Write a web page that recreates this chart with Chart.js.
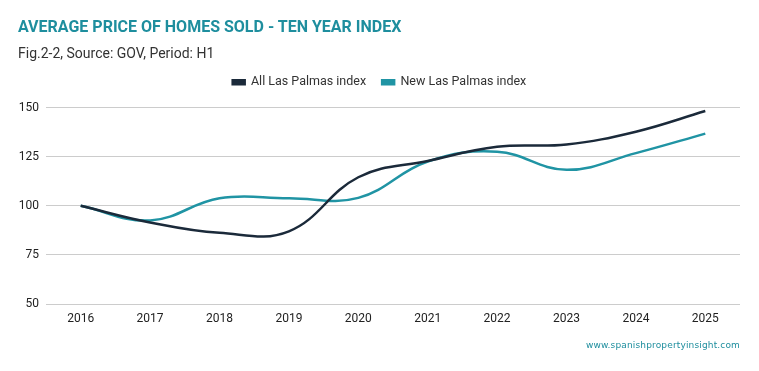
<!DOCTYPE html>
<html>
<head>
<meta charset="utf-8">
<script src="https://cdn.jsdelivr.net/npm/chart.js@4.4.1/dist/chart.umd.min.js"></script>
<style>
  html, body { margin: 0; padding: 0; background: #ffffff; }
  #wrap { position: relative; width: 759px; height: 371px; overflow: hidden; font-family: Roboto, "Noto Sans", sans-serif; }
  #title { position: absolute; left: 18px; top: 17px; font-size: 16px; font-weight: 700; color: #1e8e9e; white-space: nowrap; }
  #subtitle { position: absolute; left: 18px; top: 45px; font-size: 14px; color: #333333; white-space: nowrap; }
  #credit { position: absolute; right: 19px; top: 340px; font-family: "DejaVu Sans", sans-serif; font-size: 9px; letter-spacing: 0.15px; font-weight: 400; color: #1e8e9e; white-space: nowrap; }
  canvas { position: absolute; left: 0; top: 0; }
</style>
</head>
<body>
<div id="wrap">
  <canvas id="c" width="759" height="371"></canvas>
  <div id="title">AVERAGE PRICE OF HOMES SOLD - TEN YEAR INDEX</div>
  <div id="subtitle">Fig.2-2, Source: GOV, Period: H1</div>
  <div id="credit">www.spanishpropertyinsight.com</div>
</div>
<script>
const years = ['2016','2017','2018','2019','2020','2021','2022','2023','2024','2025'];
const allLasPalmas = [100, 91.5, 86.2, 87, 114.5, 122.8, 130, 131.2, 137.7, 148.2];
const newLasPalmas = [100, 92.5, 103.8, 103.8, 104, 122.5, 127.5, 118.3, 126.8, 136.7];
const yTicks = [50, 75, 100, 125, 150];

const legendSpacer = {
  id: 'legendSpacer',
  beforeInit(chart) {
    const orig = chart.legend.fit;
    chart.legend.fit = function () {
      orig.bind(chart.legend)();
      this.height += 9;
    };
  }
};

new Chart(document.getElementById('c'), {
  type: 'line',
  data: {
    labels: years,
    datasets: [
      { label: 'All Las Palmas index', data: allLasPalmas, borderColor: '#1b2a3a', backgroundColor: '#1b2a3a', borderWidth: 2.5, tension: 0.4, pointRadius: 0, fill: false },
      { label: 'New Las Palmas index', data: newLasPalmas, borderColor: '#2094a4', backgroundColor: '#2094a4', borderWidth: 2.5, tension: 0.4, pointRadius: 0, fill: false }
    ]
  },
  options: {
    responsive: false,
    animation: false,
    layout: { padding: { top: 60, right: 19, bottom: 37, left: 19 } },
    plugins: {
      legend: {
        position: 'top',
        align: 'center',
        labels: {
          boxWidth: 12,
          boxHeight: 4,
          padding: 16,
          color: '#333333',
          font: { family: 'Roboto', size: 12.5 }
        }
      },
      tooltip: { enabled: false }
    },
    scales: {
      x: {
        offset: true,
        grid: { display: false, drawTicks: false },
        border: { display: false },
        ticks: { color: '#222222', font: { family: 'Roboto', size: 12 }, padding: 8, maxRotation: 0 },
        afterFit(scale) { scale.height = 30; }
      },
      y: {
        min: 50,
        max: 150,
        afterBuildTicks(scale) { scale.ticks = yTicks.map(v => ({ value: v })); },
        grid: { color: '#cccccc', lineWidth: 1, drawTicks: false },
        border: { display: false },
        ticks: { color: '#222222', font: { family: 'Roboto', size: 12 }, padding: 7 },
        afterFit(scale) { scale.width = 27; }
      }
    }
  },
  plugins: [legendSpacer]
});
</script>
</body>
</html>
